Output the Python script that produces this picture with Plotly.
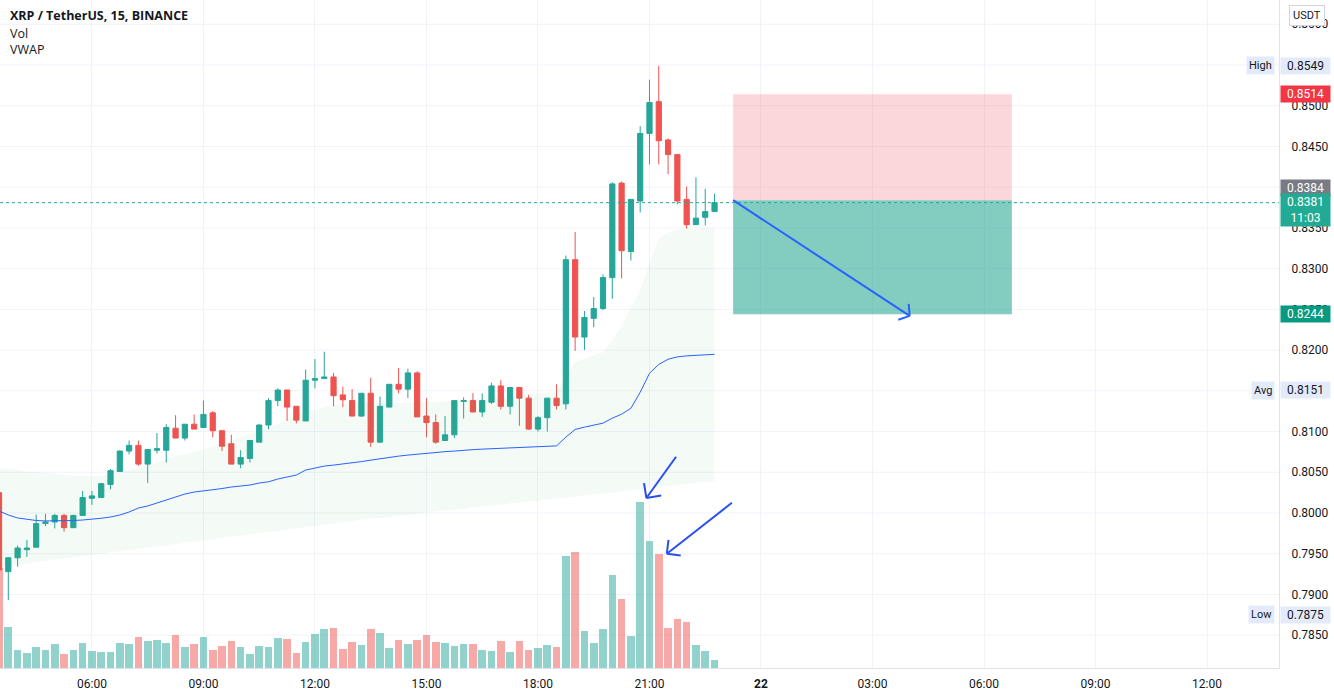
import math
import pandas as pd
import plotly.graph_objects as go

# ---------------- DATA ----------------
start_time = "2021-12-21 03:30"
n_bars = 78
opens = [0.8025, 0.7928, 0.7945, 0.7955, 0.7958, 0.7987, 0.7989, 0.7997, 0.7982, 0.7997,
         0.8018, 0.8019, 0.8035, 0.8051, 0.8076, 0.8083, 0.8060, 0.8077, 0.8077, 0.8104,
         0.8092, 0.8109, 0.8105, 0.8123, 0.8101, 0.8085, 0.8060, 0.8067, 0.8087, 0.8108,
         0.8138, 0.8151, 0.8131, 0.8113, 0.8163, 0.8165, 0.8167, 0.8145, 0.8138, 0.8119,
         0.8147, 0.8087, 0.8130, 0.8158, 0.8152, 0.8172, 0.8119, 0.8111, 0.8089, 0.8096,
         0.8137, 0.8138, 0.8124, 0.8136, 0.8156, 0.8131, 0.8154, 0.8141, 0.8103, 0.8117,
         0.8141, 0.8134, 0.8311, 0.8216, 0.8239, 0.8251, 0.8289, 0.8405, 0.8321, 0.8383,
         0.8466, 0.8505, 0.8458, 0.8440, 0.8385, 0.8354, 0.8363, 0.8370]
highs = [0.8030, 0.7946, 0.7960, 0.7967, 0.7998, 0.7999, 0.7999, 0.7999, 0.7998, 0.8027,
         0.8027, 0.8037, 0.8054, 0.8077, 0.8089, 0.8089, 0.8078, 0.8098, 0.8109, 0.8120,
         0.8109, 0.8121, 0.8138, 0.8125, 0.8101, 0.8096, 0.8077, 0.8089, 0.8109, 0.8141,
         0.8153, 0.8151, 0.8131, 0.8176, 0.8189, 0.8198, 0.8172, 0.8155, 0.8152, 0.8147,
         0.8166, 0.8143, 0.8158, 0.8178, 0.8177, 0.8174, 0.8141, 0.8121, 0.8119, 0.8138,
         0.8142, 0.8147, 0.8147, 0.8160, 0.8163, 0.8155, 0.8154, 0.8145, 0.8119, 0.8141,
         0.8158, 0.8316, 0.8345, 0.8248, 0.8265, 0.8293, 0.8406, 0.8407, 0.8385, 0.8475,
         0.8532, 0.8549, 0.8460, 0.8440, 0.8401, 0.8412, 0.8398, 0.8392]
lows = [0.7875, 0.7893, 0.7934, 0.7946, 0.7958, 0.7984, 0.7981, 0.7977, 0.7982, 0.7997,
        0.8010, 0.8019, 0.8029, 0.8051, 0.8072, 0.8058, 0.8037, 0.8073, 0.8062, 0.8092,
        0.8089, 0.8103, 0.8105, 0.8093, 0.8076, 0.8060, 0.8055, 0.8062, 0.8087, 0.8103,
        0.8131, 0.8113, 0.8110, 0.8113, 0.8153, 0.8165, 0.8131, 0.8130, 0.8119, 0.8118,
        0.8081, 0.8086, 0.8130, 0.8147, 0.8141, 0.8118, 0.8093, 0.8085, 0.8089, 0.8092,
        0.8116, 0.8124, 0.8118, 0.8134, 0.8127, 0.8121, 0.8107, 0.8102, 0.8100, 0.8100,
        0.8127, 0.8127, 0.8199, 0.8200, 0.8228, 0.8249, 0.8263, 0.8288, 0.8310, 0.8369,
        0.8428, 0.8428, 0.8416, 0.8379, 0.8349, 0.8354, 0.8353, 0.8370]
closes = [0.7930, 0.7945, 0.7957, 0.7957, 0.7987, 0.7989, 0.7997, 0.7982, 0.7997, 0.8019,
          0.8021, 0.8036, 0.8052, 0.8076, 0.8083, 0.8060, 0.8078, 0.8079, 0.8105, 0.8092,
          0.8109, 0.8103, 0.8121, 0.8101, 0.8082, 0.8060, 0.8068, 0.8089, 0.8108, 0.8138,
          0.8151, 0.8130, 0.8114, 0.8163, 0.8165, 0.8167, 0.8144, 0.8139, 0.8119, 0.8147,
          0.8087, 0.8131, 0.8158, 0.8152, 0.8172, 0.8118, 0.8111, 0.8087, 0.8096, 0.8138,
          0.8138, 0.8124, 0.8138, 0.8156, 0.8131, 0.8154, 0.8141, 0.8103, 0.8117, 0.8141,
          0.8132, 0.8311, 0.8216, 0.8240, 0.8251, 0.8289, 0.8404, 0.8322, 0.8385, 0.8466,
          0.8504, 0.8457, 0.8440, 0.8383, 0.8354, 0.8362, 0.8370, 0.8381]
# volume in millions of XRP
volumes = [10.0, 4.1, 1.8, 1.5, 2.1, 1.8, 2.4, 1.4, 1.8, 2.5,
           1.7, 1.6, 1.6, 2.5, 2.4, 3.1, 2.7, 2.8, 2.5, 3.3,
           2.1, 2.4, 3.1, 1.8, 2.2, 2.7, 2.1, 1.4, 2.2, 2.1,
           3.0, 2.9, 1.5, 2.6, 3.4, 3.9, 4.0, 1.9, 2.6, 2.3,
           3.9, 3.5, 2.0, 2.8, 2.4, 2.8, 3.3, 2.6, 2.5, 2.2,
           2.4, 2.4, 1.8, 1.7, 2.7, 1.6, 2.7, 1.8, 2.0, 2.3,
           2.1, 11.2, 11.6, 3.7, 2.5, 3.9, 9.3, 6.9, 3.2, 16.6,
           12.7, 11.4, 4.0, 4.9, 4.6, 2.3, 1.7, 0.8]
vwap = [0.80025, 0.79975, 0.79939, 0.79920, 0.79908, 0.79902, 0.79902, 0.79902, 0.79908, 0.79914,
        0.79920, 0.79935, 0.79951, 0.79975, 0.80012, 0.80061, 0.80086, 0.80123, 0.80159, 0.80196,
        0.80233, 0.80257, 0.80270, 0.80288, 0.80300, 0.80319, 0.80331, 0.80343, 0.80368, 0.80383,
        0.80417, 0.80441, 0.80466, 0.80527, 0.80551, 0.80576, 0.80588, 0.80600, 0.80616, 0.80631,
        0.80649, 0.80668, 0.80686, 0.80698, 0.80711, 0.80723, 0.80735, 0.80747, 0.80753, 0.80760,
        0.80772, 0.80778, 0.80784, 0.80790, 0.80796, 0.80802, 0.80809, 0.80815, 0.80821, 0.80821,
        0.80824, 0.80931, 0.81025, 0.81054, 0.81078, 0.81103, 0.81164, 0.81213, 0.81286, 0.81482,
        0.81715, 0.81825, 0.81887, 0.81917, 0.81929, 0.81936, 0.81942, 0.81948]
vwap_upper = [0.8055, 0.8054, 0.8053, 0.8051, 0.8050, 0.8049, 0.8048, 0.8047, 0.8045, 0.8045,
              0.8045, 0.8045, 0.8048, 0.8050, 0.8053, 0.8055, 0.8059, 0.8062, 0.8066, 0.8070,
              0.8072, 0.8075, 0.8078, 0.8082, 0.8086, 0.8089, 0.8093, 0.8097, 0.8100, 0.8104,
              0.8109, 0.8114, 0.8119, 0.8124, 0.8127, 0.8130, 0.8132, 0.8134, 0.8135, 0.8135,
              0.8135, 0.8135, 0.8135, 0.8135, 0.8135, 0.8135, 0.8136, 0.8136, 0.8137, 0.8138,
              0.8138, 0.8140, 0.8141, 0.8142, 0.8142, 0.8143, 0.8145, 0.8146, 0.8147, 0.8148,
              0.8148, 0.8169, 0.8185, 0.8190, 0.8194, 0.8197, 0.8212, 0.8230, 0.8251, 0.8273,
              0.8307, 0.8337, 0.8344, 0.8348, 0.8349, 0.8349, 0.8350, 0.8350]
vwap_lower = [0.7934, 0.7935, 0.7937, 0.7938, 0.7940, 0.7941, 0.7943, 0.7944, 0.7946, 0.7947,
              0.7949, 0.7950, 0.7952, 0.7953, 0.7955, 0.7956, 0.7958, 0.7959, 0.7960, 0.7962,
              0.7964, 0.7965, 0.7966, 0.7968, 0.7970, 0.7971, 0.7972, 0.7974, 0.7975, 0.7977,
              0.7978, 0.7980, 0.7981, 0.7983, 0.7984, 0.7986, 0.7987, 0.7989, 0.7990, 0.7992,
              0.7993, 0.7994, 0.7995, 0.7997, 0.7998, 0.7999, 0.8000, 0.8002, 0.8003, 0.8004,
              0.8005, 0.8007, 0.8008, 0.8009, 0.8010, 0.8012, 0.8013, 0.8014, 0.8015, 0.8017,
              0.8018, 0.8019, 0.8020, 0.8022, 0.8023, 0.8024, 0.8025, 0.8027, 0.8028, 0.8029,
              0.8031, 0.8032, 0.8033, 0.8034, 0.8036, 0.8037, 0.8038, 0.8039]

# price ticks; 0.8550 / 0.8400 / 0.8150 are hidden behind badges in the reference
grid_prices = [0.7850, 0.7900, 0.7950, 0.8000, 0.8050, 0.8100, 0.8150, 0.8200, 0.8250,
               0.8300, 0.8350, 0.8400, 0.8450, 0.8500, 0.8550, 0.8600]
hidden_price_labels = [0.8150, 0.8400, 0.8550]
time_ticks = ["2021-12-21 06:00", "2021-12-21 09:00", "2021-12-21 12:00", "2021-12-21 15:00",
              "2021-12-21 18:00", "2021-12-21 21:00", "2021-12-22 00:00", "2021-12-22 03:00",
              "2021-12-22 06:00", "2021-12-22 09:00", "2021-12-22 12:00"]
time_tick_labels = ["06:00", "09:00", "12:00", "15:00", "18:00", "21:00", "<b>22</b>",
                    "03:00", "06:00", "09:00", "12:00"]

# price-scale badges
last_price = 0.8381
countdown = "11:03"
high_price = 0.8549
low_price = 0.7875
avg_price = 0.8151
stop_price = 0.8514
entry_price = 0.8384
target_price = 0.8244

# drawings (short position tool + arrows)
pos_start, pos_end = "2021-12-21 23:15", "2021-12-22 06:45"
main_arrow = (("2021-12-21 23:15", 0.8384), ("2021-12-22 04:00", 0.8242))
hand_arrow1 = (("2021-12-21 21:43", 0.80690), ("2021-12-21 20:55", 0.80184))
hand_arrow2 = (("2021-12-21 23:13", 0.80125), ("2021-12-21 21:28", 0.79500))

# ---------------- FIGURE ----------------
times = pd.date_range(start_time, periods=n_bars, freq="15min")
X0 = pd.Timestamp("2021-12-21 03:31:36")
X1 = pd.Timestamp("2021-12-22 13:56:10")
Y0, Y1 = 0.78097, 0.86298
W, H = 1279, 668
UP, DOWN = "#26a69a", "#ef5350"
UP_V, DOWN_V = "rgba(38,166,154,0.5)", "rgba(239,83,80,0.5)"
FONT = "Roboto"
TXT = "#131722"
GRID = "#f0f3fa"

vol_colors = [UP_V if c >= o else DOWN_V for o, c in zip(opens, closes)]
label_prices = [p for p in grid_prices if p not in hidden_price_labels]

fig = go.Figure()
fig.add_trace(go.Bar(x=times, y=volumes, marker=dict(color=vol_colors, line_width=0),
                     width=15 * 60 * 1000 * 0.82, yaxis="y", hoverinfo="skip"))
fig.add_trace(go.Scatter(x=times, y=vwap_lower, mode="lines", line=dict(width=0),
                         yaxis="y2", hoverinfo="skip"))
fig.add_trace(go.Scatter(x=times, y=vwap_upper, mode="lines", line=dict(width=0),
                         fill="tonexty", fillcolor="rgba(76,175,80,0.06)",
                         yaxis="y2", hoverinfo="skip"))
fig.add_trace(go.Scatter(x=times, y=vwap, mode="lines", line=dict(color="#2962ff", width=1),
                         yaxis="y2", hoverinfo="skip"))
fig.add_trace(go.Candlestick(x=times, open=opens, high=highs, low=lows, close=closes,
                             increasing=dict(line=dict(color=UP, width=1), fillcolor=UP),
                             decreasing=dict(line=dict(color=DOWN, width=1), fillcolor=DOWN),
                             yaxis="y2", whiskerwidth=0))


def to_px(t, p):
    t = pd.Timestamp(t)
    return ((t - X0) / (X1 - X0) * W, (Y1 - p) / (Y1 - Y0) * H)


def from_px(xp, yp):
    return (X0 + (X1 - X0) * (xp / W), Y1 - yp / H * (Y1 - Y0))


shapes = []
# horizontal grid lines at every price step (labels only where visible)
for gp in grid_prices:
    shapes.append(dict(type="line", xref="paper", yref="y2", x0=0, x1=1, y0=gp, y1=gp,
                       line=dict(color=GRID, width=1), layer="below"))
# position tool
shapes.append(dict(type="rect", xref="x", yref="y2", x0=pos_start, x1=pos_end,
                   y0=entry_price, y1=stop_price, fillcolor="rgba(242,54,69,0.2)",
                   line=dict(width=0), layer="above"))
shapes.append(dict(type="rect", xref="x", yref="y2", x0=pos_start, x1=pos_end,
                   y0=target_price, y1=entry_price, fillcolor="rgba(8,153,129,0.5)",
                   line=dict(width=0), layer="above"))
# last price dotted line
shapes.append(dict(type="line", xref="paper", yref="y2", x0=0, x1=1, y0=last_price,
                   y1=last_price, line=dict(color=UP, width=1, dash="dot"), layer="above"))


def add_arrow(a, half_angle, length, color="#2a4ff0", width=2):
    (t0, p0), (t1, p1) = a
    x0, y0 = to_px(t0, p0)
    x1, y1 = to_px(t1, p1)
    back = math.atan2(y0 - y1, x0 - x1)
    shapes.append(dict(type="line", xref="x", yref="y2", x0=t0, y0=p0, x1=t1, y1=p1,
                       line=dict(color=color, width=width), layer="above"))
    for s in (-1, 1):
        ang = back + s * math.radians(half_angle)
        tw, pw = from_px(x1 + length * math.cos(ang), y1 + length * math.sin(ang))
        shapes.append(dict(type="line", xref="x", yref="y2", x0=t1, y0=p1, x1=tw, y1=pw,
                           line=dict(color=color, width=width), layer="above"))


add_arrow(main_arrow, 52, 12, color="#2962ff")
add_arrow(hand_arrow1, 45, 15)
add_arrow(hand_arrow2, 45, 14)

annotations = []
# legend texts
annotations.append(dict(xref="paper", yref="paper", x=8 / W, y=1 - 16 / H, xanchor="left",
                        yanchor="middle", showarrow=False, text="<b>XRP / TetherUS, 15, BINANCE</b>",
                        font=dict(family="Open Sans", size=12.5, color=TXT)))
annotations.append(dict(xref="paper", yref="paper", x=8 / W, y=1 - 33 / H, xanchor="left",
                        yanchor="middle", showarrow=False, text="Vol",
                        font=dict(family="Open Sans", size=12.5, color=TXT)))
annotations.append(dict(xref="paper", yref="paper", x=8 / W, y=1 - 50 / H, xanchor="left",
                        yanchor="middle", showarrow=False, text="VWAP",
                        font=dict(family="Open Sans", size=12.5, color=TXT)))


def badge(price, text, bg, fg="white", ypos=None):
    annotations.append(dict(xref="paper", yref="y2", x=1 + 1 / W, y=price if ypos is None else ypos,
                            xanchor="left", yanchor="middle", showarrow=False, text=text,
                            bgcolor=bg, borderpad=1, width=47, align="center",
                            font=dict(family=FONT, size=12, color=fg)))


def side_tag(price, text):
    annotations.append(dict(xref="paper", yref="y2", x=1 - 4 / W, y=price, xanchor="right",
                            yanchor="middle", showarrow=False, text=text, bgcolor="#e3ebfb",
                            borderpad=2, font=dict(family=FONT, size=11, color=TXT)))


LIGHT = "#e3ebfb"
badge(high_price, f"{high_price:.4f}", LIGHT, TXT)
side_tag(high_price, "High")
badge(stop_price, f"{stop_price:.4f}", "#f23645")
badge(entry_price, f"{entry_price:.4f}", "#787b86", ypos=entry_price + 0.0015)
badge(last_price, f"{last_price:.4f}<br>{countdown}", "#22ab94", ypos=last_price - 0.0009)
badge(target_price, f"{target_price:.4f}", "#089981")
badge(avg_price, f"{avg_price:.4f}", LIGHT, TXT)
side_tag(avg_price, "Avg")
badge(low_price, f"{low_price:.4f}", LIGHT, TXT)
side_tag(low_price, "Low")
annotations.append(dict(xref="paper", yref="paper", x=1 + 28 / W, y=1 - 16 / H, xanchor="center",
                        yanchor="middle", showarrow=False, text="USDT", bgcolor="white",
                        bordercolor="#d1d4dc", borderwidth=1, borderpad=3,
                        font=dict(family=FONT, size=11, color=TXT)))

fig.update_layout(
    width=1334, height=697,
    margin=dict(l=0, r=55, t=0, b=29),
    paper_bgcolor="white", plot_bgcolor="white",
    showlegend=False,
    boxgap=0.2,
    bargap=0,
    shapes=shapes,
    annotations=annotations,
    xaxis=dict(type="date", range=[X0, X1], rangeslider=dict(visible=False),
               tickvals=time_ticks, ticktext=time_tick_labels, showgrid=True,
               gridcolor=GRID, gridwidth=1, zeroline=False, showline=True,
               linecolor="#e0e3eb", ticks="outside", ticklen=5, tickcolor="rgba(0,0,0,0)",
               tickfont=dict(family=FONT, size=12, color=TXT)),
    yaxis=dict(range=[0, 66.8], visible=False, showgrid=False, fixedrange=True),
    yaxis2=dict(overlaying="y", side="right", range=[Y0, Y1], tickvals=label_prices,
                ticktext=[f"{v:.4f}" for v in label_prices], showgrid=False,
                zeroline=False, showline=True,
                linecolor="#e0e3eb", ticks="outside", ticklen=9, tickcolor="rgba(0,0,0,0)",
                tickfont=dict(family=FONT, size=12, color=TXT)),
)

fig.write_html("out.html", config={"displayModeBar": False},
               post_script="document.body.style.margin='0';document.body.style.overflow='hidden';")
